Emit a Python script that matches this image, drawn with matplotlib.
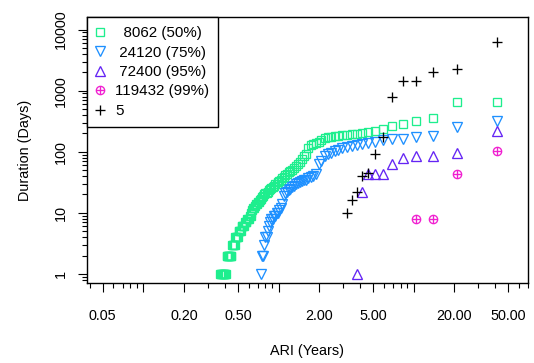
import matplotlib
matplotlib.use("Agg")
import matplotlib.pyplot as plt
from matplotlib.path import Path
from matplotlib.ticker import FixedLocator, FixedFormatter, NullFormatter

plt.rcParams['font.family'] = ['Liberation Sans', 'DejaVu Sans']

# ARI (years) for each rank
ari = [41.60, 20.80, 13.87, 10.40, 8.32, 6.93, 5.94, 5.20, 4.62, 4.16,
       3.78, 3.47, 3.20, 2.97, 2.77, 2.60, 2.45, 2.31, 2.19, 2.08,
       1.98, 1.89, 1.81, 1.73, 1.66, 1.60, 1.54, 1.49, 1.43, 1.39,
       1.34, 1.30, 1.26, 1.22, 1.19, 1.16, 1.12, 1.09, 1.07, 1.04,
       1.01, 0.990, 0.967, 0.945, 0.924, 0.904, 0.885, 0.867, 0.849, 0.832,
       0.816, 0.800, 0.785, 0.770, 0.756, 0.743, 0.730, 0.717, 0.705, 0.693,
       0.682, 0.671, 0.660, 0.650, 0.640, 0.630, 0.621, 0.612, 0.603, 0.594,
       0.586, 0.578, 0.570, 0.562, 0.555, 0.547, 0.540, 0.533, 0.527, 0.520,
       0.514, 0.507, 0.501, 0.495, 0.489, 0.484, 0.478, 0.473, 0.467, 0.462,
       0.457, 0.452, 0.447, 0.443, 0.438, 0.433, 0.429, 0.424, 0.420, 0.416,
       0.412, 0.408, 0.404, 0.400, 0.396, 0.392, 0.389, 0.385, 0.382, 0.378,
       0.375, 0.371]

# Durations (days), sorted by rank
dur_8062 = [660, 645, 360, 320, 280, 265, 233,
            215, 211, 203, 199, 195, 190, 187, 184, 181, 176, 172, 166, 156, 147, 139, 133, 129, 115,
            92, 85, 75, 67, 62, 58, 54, 50, 49, 47, 44, 42, 39, 37, 35,
            33, 32, 30, 30, 28, 27, 26, 25, 24, 22, 21, 21, 20, 19, 18,
            17, 16, 15, 15, 14, 14, 13, 12, 12, 11, 10, 9, 9, 8, 8,
            8, 7, 7, 7, 6, 6, 6, 6, 5, 5, 5, 5,
            4, 4, 4, 4, 4, 3, 3, 3, 3, 3,
            2, 2, 2, 2, 2, 2, 2, 2, 2,
            1, 1, 1, 1, 1, 1, 1, 1, 1, 1, 1]
dur_24120 = [323, 252, 184, 173, 162, 162, 156,
             146, 141, 134, 129, 124, 119, 114, 108, 103, 97, 92, 86,
             72, 62, 43, 40, 39, 37, 35, 34, 33, 32, 31, 30, 28, 27, 25, 24, 22, 21, 19,
             14, 12, 11, 10, 10, 9, 9, 8, 8, 7, 6, 5, 4, 4, 3, 2, 2, 1]
dur_72400 = [220, 95, 85, 85, 80, 62, 43, 43, 43, 22, 1]
dur_119432 = [103, 43, 8, 8]
dur_5 = [6200, 2240, 2000, 1460, 1460, 780, 173, 92, 45, 40, 22, 16, 10]

labels = ["  8062 (50%)", " 24120 (75%)", " 72400 (95%)", "119432 (99%)", "5"]
colors = ["#1EEE8E", "#1E90FF", "#6424F4", "#F01FD0", "#000000"]

xmajor = [0.05, 0.1, 0.2, 0.5, 1, 2, 5, 10, 20, 50]
xmajor_labels = ["0.05", "", "0.20", "0.50", "", "2.00", "5.00", "", "20.00", "50.00"]
xminor = [0.04, 0.06, 0.07, 0.08, 0.09, 0.3, 0.4, 0.6, 0.7, 0.8, 0.9,
          3, 4, 6, 7, 8, 9, 30, 40, 60, 70]
ymajor = [1, 10, 100, 1000, 10000]
ymajor_labels = ["1", "10", "100", "1000", "10000"]

fig = plt.figure(figsize=(5.34, 3.63), dpi=100)
ax = fig.add_axes([87/534, 1-283/363, (528-87)/534, (283-17)/363])
ax.set_xscale('log')
ax.set_yscale('log')

circ = Path.unit_circle()
plus = Path([[-1, 0], [1, 0], [0, -1], [0, 1]],
            [Path.MOVETO, Path.LINETO, Path.MOVETO, Path.LINETO])
circ_plus = Path.make_compound_path(circ, plus)

series = [dur_8062, dur_24120, dur_72400, dur_119432, dur_5]
markers = ['s', 'v', '^', circ_plus, '+']
msizes = [5.6, 6.8, 6.8, 6.0, 7.8]
handles = []
for d, c, m, ms in zip(series, colors, markers, msizes):
    h, = ax.plot(ari[:len(d)], d, linestyle='none', marker=m, markersize=ms,
                 markerfacecolor='none', markeredgecolor=c, markeredgewidth=0.95,
                 color=c)
    handles.append(h)

ax.set_xlim(0.0382, 70.3)
ax.set_ylim(0.712, 16070)

ax.xaxis.set_major_locator(FixedLocator(xmajor))
ax.xaxis.set_major_formatter(FixedFormatter(xmajor_labels))
ax.xaxis.set_minor_locator(FixedLocator(xminor))
ax.xaxis.set_minor_formatter(NullFormatter())

yminor = []
for dec in [0.1, 1, 10, 100, 1000]:
    for k in range(2, 10):
        yminor.append(dec * k)
ax.yaxis.set_major_locator(FixedLocator(ymajor))
ax.yaxis.set_major_formatter(FixedFormatter(ymajor_labels))
ax.yaxis.set_minor_locator(FixedLocator(yminor))
ax.yaxis.set_minor_formatter(NullFormatter())

ax.tick_params(which='major', direction='out', length=6.5, width=0.8,
               labelsize=10.4, colors='black')
ax.tick_params(which='minor', direction='out', length=3.6, width=0.8)
ax.tick_params(axis='x', which='major', pad=12)
ax.tick_params(axis='y', which='major', pad=7)
for lab in ax.get_yticklabels():
    lab.set_rotation(90)
    lab.set_va('center')

for s in ax.spines.values():
    s.set_linewidth(1.0)
    s.set_color('black')

fig.text(307.5/534, 1-351/363, 'ARI (Years)', ha='center', va='center', fontsize=10.4)
fig.text(25/534, 1-150/363, 'Duration (Days)', ha='center', va='center',
         rotation=90, fontsize=10.4)

leg = ax.legend(handles, labels, loc='upper left', borderaxespad=0,
                frameon=True, fancybox=False, edgecolor='black', framealpha=1,
                fontsize=10.9, handlelength=0.52, handletextpad=0.73,
                borderpad=0.6, labelspacing=0.36)
leg.get_frame().set_linewidth(1.0)

fig.savefig('out.png', dpi=100)
